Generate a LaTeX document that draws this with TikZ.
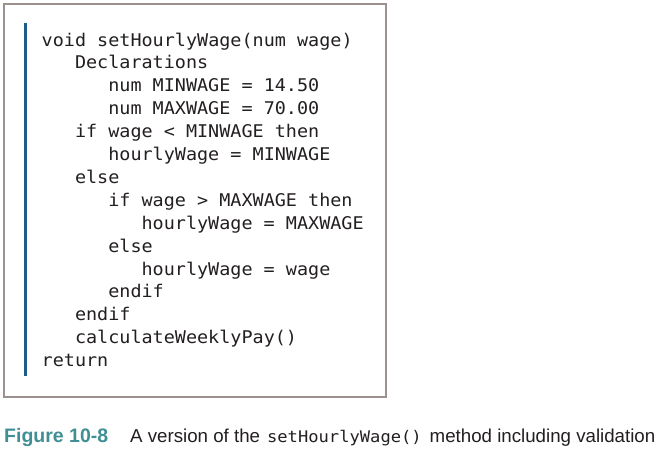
\documentclass[tikz,border=0pt]{standalone}
\usepackage{fontspec}
\setmainfont{Liberation Sans}
\newfontfamily\codefont[FakeStretch=1.054]{DejaVu Sans Mono}
\newfontfamily\capcode[FakeStretch=1.07]{DejaVu Sans Mono}
\definecolor{bordergray}{HTML}{9C918E}
\definecolor{barblue}{HTML}{1D5E86}
\definecolor{figteal}{HTML}{3F8F95}
\definecolor{ink}{HTML}{231F20}
\tikzset{
  codeline/.style={anchor=base west, inner sep=0pt, font=\codefont\fontsize{17.5pt}{20pt}\selectfont, text=ink},
  captext/.style={anchor=base west, inner sep=0pt, text=ink}
}
\begin{document}
\begin{tikzpicture}[x=1pt,y=-1pt]
\useasboundingbox (0,0) rectangle (660,450);
\fill[white] (0,0) rectangle (660,450);
% frame
\draw[bordergray, line width=2pt] (3.5,3.5) rectangle (385.5,396.5);
% blue bar
\draw[barblue, line width=3pt] (25,23) -- (25,376);
% code lines
\def\lx{41.5}
\def\ind{33.3}
\def\ls{22.9}
\node[codeline] (l1)  at (\lx+0*\ind, 46+0*\ls)  {void setHourlyWage(num wage)};
\node[codeline] (l2)  at (\lx+1*\ind, 46+1*\ls)  {Declarations};
\node[codeline] (l3)  at (\lx+2*\ind, 46+2*\ls)  {num MINWAGE = 14.50};
\node[codeline] (l4)  at (\lx+2*\ind, 46+3*\ls)  {num MAXWAGE = 70.00};
\node[codeline] (l5)  at (\lx+1*\ind, 46+4*\ls)  {if wage < MINWAGE then};
\node[codeline] (l6)  at (\lx+2*\ind, 46+5*\ls)  {hourlyWage = MINWAGE};
\node[codeline] (l7)  at (\lx+1*\ind, 46+6*\ls)  {else};
\node[codeline] (l8)  at (\lx+2*\ind, 46+7*\ls)  {if wage > MAXWAGE then};
\node[codeline] (l9)  at (\lx+3*\ind, 46+8*\ls)  {hourlyWage = MAXWAGE};
\node[codeline] (l10) at (\lx+2*\ind, 46+9*\ls)  {else};
\node[codeline] (l11) at (\lx+3*\ind, 46+10*\ls) {hourlyWage = wage};
\node[codeline] (l12) at (\lx+2*\ind, 46+11*\ls) {endif};
\node[codeline] (l13) at (\lx+1*\ind, 46+12*\ls) {endif};
\node[codeline] (l14) at (\lx+1*\ind, 46+13*\ls) {calculateWeeklyPay()};
\node[codeline] (l15) at (\lx+0*\ind, 46+14*\ls) {return};
% caption
\node[captext, text=figteal, font=\bfseries\fontsize{19.5pt}{22pt}\selectfont] (fig) at (4,442) {Figure 10-8};
\node[captext, font=\fontsize{18.7pt}{22pt}\selectfont] (cap) at (130,442)
  {A version of the\hspace{7pt}{\capcode\fontsize{16pt}{20pt}\selectfont setHourlyWage()}\hspace{8pt}method including validation};
\end{tikzpicture}
\end{document}
